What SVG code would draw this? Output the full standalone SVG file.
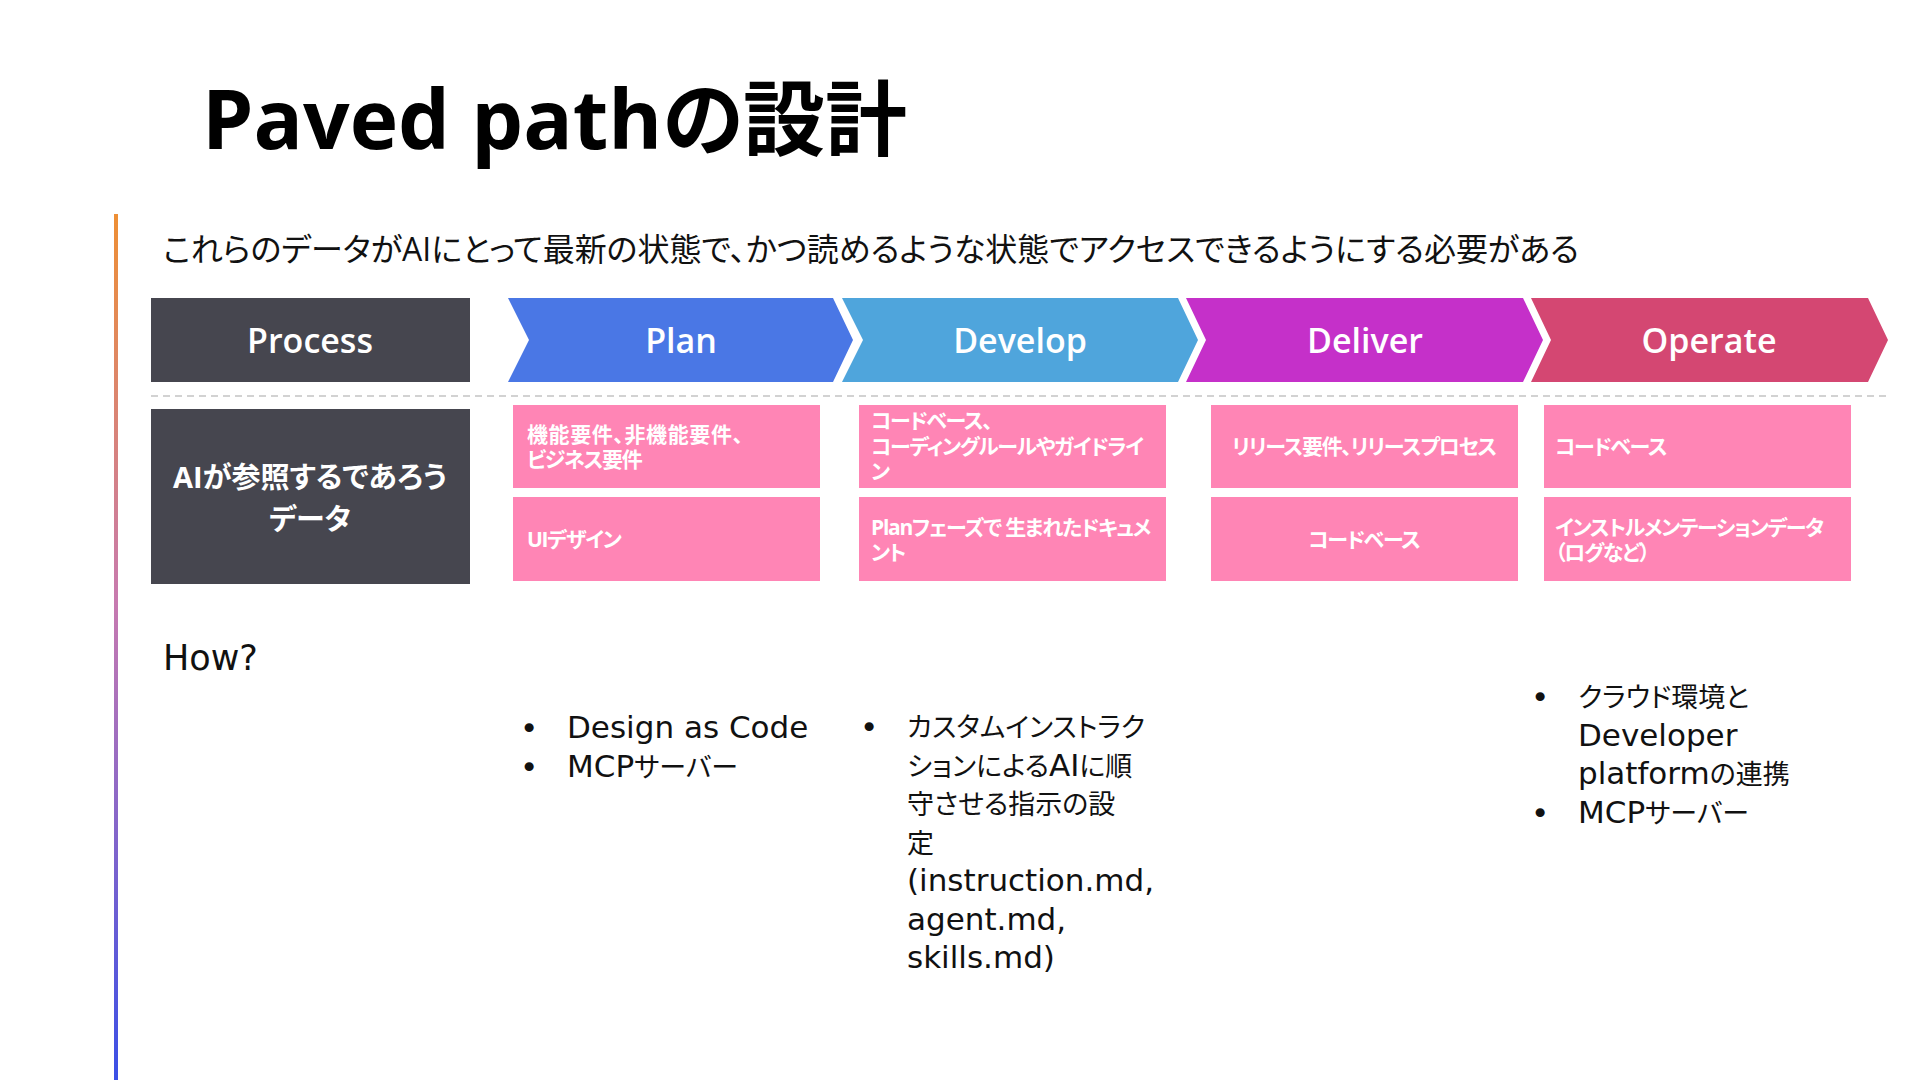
<svg xmlns="http://www.w3.org/2000/svg" width="1920" height="1080" viewBox="0 0 1920 1080">
<defs>
<linearGradient id="barGrad" x1="0" y1="0" x2="0" y2="1">
<stop offset="0" stop-color="#EE8F34"/>
<stop offset="0.45" stop-color="#C77AB0"/>
<stop offset="1" stop-color="#3A4FE6"/>
</linearGradient>
<style>
text{font-family:"Open Sans","Noto Sans CJK JP",sans-serif;font-feature-settings:"palt" 1;}
.title{font-size:82px;font-weight:700;fill:#000;}
.sub{font-size:32px;fill:#111;}
.hdr{font-size:34px;font-weight:600;fill:#fff;text-anchor:middle;dominant-baseline:central;}
.dark{fill:#46464F;}
.pink{fill:#FF85B5;}
.cell{font-size:21px;font-weight:700;fill:#fff;dominant-baseline:central;letter-spacing:-1.3px;}
.big{font-size:29px;font-weight:700;fill:#fff;text-anchor:middle;dominant-baseline:central;}
.body{font-family:"Noto Sans CJK JP",sans-serif;font-size:27px;fill:#111;}
.lat{font-family:"DejaVu Sans",sans-serif;font-size:31px;}
.bul{font-family:"DejaVu Sans",sans-serif;font-size:31px;fill:#111;}
.how{font-family:"DejaVu Sans",sans-serif;font-size:35px;fill:#111;dominant-baseline:central;}
</style>
</defs>
<rect width="1920" height="1080" fill="#fff"/>
<rect x="114" y="214" width="4" height="866" fill="url(#barGrad)"/>
<text class="title" x="202" y="149">Paved pathの設計</text>
<text class="sub" x="163" y="261">これらのデータがAIにとって最新の状態で、かつ読めるような状態でアクセスできるようにする必要がある</text>

<g id="process">
<rect class="dark" x="151" y="298" width="319" height="84"/>
<text class="hdr" x="310" y="340">Process</text>
</g>
<g id="plan">
<polygon points="508,298 833,298 853,340 833,382 508,382 529,340" fill="#4A77E5"/>
<text class="hdr" x="681" y="340">Plan</text>
</g>
<g id="develop">
<polygon points="842,298 1178,298 1198,340 1178,382 842,382 863,340" fill="#4FA5DC"/>
<text class="hdr" x="1020" y="340">Develop</text>
</g>
<g id="deliver">
<polygon points="1186,298 1523,298 1543,340 1523,382 1186,382 1206,340" fill="#C530C9"/>
<text class="hdr" x="1365" y="340">Deliver</text>
</g>
<g id="operate">
<polygon points="1531,298 1868,298 1888,340 1868,382 1531,382 1551,340" fill="#D44772"/>
<text class="hdr" x="1709" y="340">Operate</text>
</g>

<g id="connectors">
<line x1="151" y1="396" x2="1888" y2="396" stroke="#D2D2D2" stroke-width="2" stroke-dasharray="7 5"/>
</g>

<g id="ai-data">
<rect class="dark" x="151" y="409" width="319" height="175"/>
<text class="big" x="310" y="476">AIが参照するであろう</text>
<text class="big" x="310" y="518">データ</text>
</g>

<g id="plan-data-1">
<rect class="pink" x="513" y="405" width="307" height="83"/>
<text class="cell" x="527" y="434" style="letter-spacing:0.6px">機能要件、非機能要件、</text>
<text class="cell" x="527" y="459">ビジネス要件</text>
</g>
<g id="plan-data-2">
<rect class="pink" x="513" y="497" width="307" height="84"/>
<text class="cell" x="527" y="539">UIデザイン</text>
</g>
<g id="develop-data-1">
<rect class="pink" x="859" y="405" width="307" height="83"/>
<text class="cell" x="871" y="420">コードベース、</text>
<text class="cell" x="871" y="446">コーディングルールやガイドライ</text>
<text class="cell" x="871" y="471">ン</text>
</g>
<g id="develop-data-2">
<rect class="pink" x="859" y="497" width="307" height="84"/>
<text class="cell" x="871" y="527">Planフェーズで 生まれたドキュメ</text>
<text class="cell" x="871" y="552">ント</text>
</g>
<g id="deliver-data-1">
<rect class="pink" x="1211" y="405" width="307" height="83"/>
<text class="cell" x="1364" y="446" text-anchor="middle">リリース要件、リリースプロセス</text>
</g>
<g id="deliver-data-2">
<rect class="pink" x="1211" y="497" width="307" height="84"/>
<text class="cell" x="1364" y="539" text-anchor="middle">コードベース</text>
</g>
<g id="operate-data-1">
<rect class="pink" x="1544" y="405" width="307" height="83"/>
<text class="cell" x="1555" y="446">コードベース</text>
</g>
<g id="operate-data-2">
<rect class="pink" x="1544" y="497" width="307" height="84"/>
<text class="cell" x="1555" y="527">インストルメンテーションデータ</text>
<text class="cell" x="1555" y="552">（ログなど）</text>
</g>

<g id="how">
<text class="how" x="163" y="658">How?</text>
</g>
<g id="plan-how">
<text class="bul" x="520" y="739">•</text>
<text class="body" x="567" y="738"><tspan class="lat">Design as Code</tspan></text>
<text class="bul" x="520" y="778">•</text>
<text class="body" x="567" y="777"><tspan class="lat">MCP</tspan>サーバー</text>
</g>
<g id="develop-how">
<text class="bul" x="860" y="738">•</text>
<text class="body" x="907" y="737">カスタムインストラク</text>
<text class="body" x="907" y="776">ションによる<tspan class="lat">AI</tspan>に順</text>
<text class="body" x="907" y="814">守させる指示の設</text>
<text class="body" x="907" y="853">定</text>
<text class="body" x="907" y="891"><tspan class="lat">(instruction.md,</tspan></text>
<text class="body" x="907" y="930"><tspan class="lat">agent.md,</tspan></text>
<text class="body" x="907" y="968"><tspan class="lat">skills.md)</tspan></text>
</g>
<g id="operate-how">
<text class="bul" x="1531" y="708">•</text>
<text class="body" x="1578" y="707">クラウド環境と</text>
<text class="body" x="1578" y="746"><tspan class="lat">Developer</tspan></text>
<text class="body" x="1578" y="784"><tspan class="lat">platform</tspan>の連携</text>
<text class="bul" x="1531" y="824">•</text>
<text class="body" x="1578" y="823"><tspan class="lat">MCP</tspan>サーバー</text>
</g>
</svg>
